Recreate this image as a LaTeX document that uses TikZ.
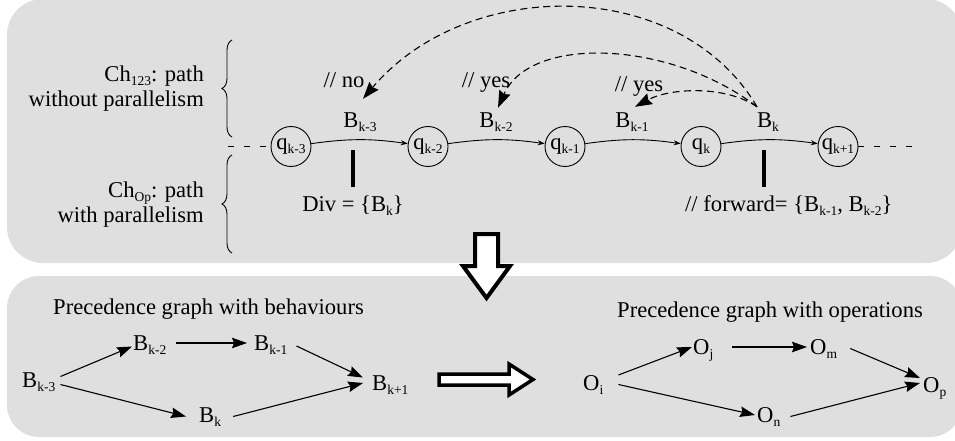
\documentclass[tikz,border=0pt]{standalone}
\usepackage{fontspec}
\setmainfont{Liberation Serif}
\usetikzlibrary{arrows.meta,decorations.pathreplacing}
\definecolor{panelgray}{RGB}{223,223,223}
\newcommand{\mysub}[1]{\raisebox{-4pt}{\fontsize{13.5pt}{14pt}\selectfont #1}}
\begin{document}
\begin{tikzpicture}[x=1pt,y=-1pt,
  font=\fontsize{22.6pt}{25pt}\selectfont,
  every node/.style={inner sep=0pt},
  txt/.style={inner sep=0pt, text height=15pt, text depth=4pt},
  st/.style={circle, draw, line width=0.9pt, minimum size=40pt, inner sep=0pt},
  chainarr/.style={line width=0.9pt, -{Stealth[length=7pt,width=5pt]}},
  dasharr/.style={line width=1.1pt, dash pattern=on 7pt off 4.5pt, -{Stealth[length=17pt,width=12pt,inset=2pt]}},
  endline/.style={line width=0.9pt, dash pattern=on 6pt off 10pt},
  barnode/.style={fill=black, minimum width=4.5pt, minimum height=37pt, inner sep=0pt},
  grarr/.style={line width=1.1pt, -{Stealth[length=15pt,width=10.5pt,inset=2pt]}},
  brc/.style={decorate, decoration={brace, amplitude=10pt}, line width=0.9pt},
  bigarr/.style={fill=white, draw=black, line width=4pt, line join=miter}]
\useasboundingbox (0,0) rectangle (955,441);
\clip (0,0) rectangle (955,441);
% panels
\fill[panelgray, rounded corners=36pt] (7,-1) rectangle (962,263);
\fill[panelgray, rounded corners=32pt] (7,276) rectangle (962,437);
% braces and labels
\draw[brc] (232,137) -- (232,40);
\draw[brc] (232,253) -- (232,155);
\node[anchor=base east] (ch1a) at (204,82) {Ch\mysub{123}: path};
\node[anchor=base east] (ch1b) at (204,107) {without parallelism};
\node[anchor=base east] (ch2a) at (204,197) {Ch\mysub{Op}: path};
\node[anchor=base east] (ch2b) at (204,222) {with parallelism};
% chain
\node[st] (q3) at (291,146.5) {q\mysub{k-3}};
\node[st] (q2) at (428,146.5) {q\mysub{k-2}};
\node[st] (q1) at (565,146.5) {q\mysub{k-1}};
\node[st] (q0) at (701,146.5) {q\mysub{k}};
\node[st] (qp) at (838,146.5) {q\mysub{k+1}};
\coordinate (dl) at (228,146.5);
\coordinate (dr) at (912,146.5);
\draw[endline] (dl) -- (q3);
\draw[endline] (qp) -- (dr);
\draw[chainarr] (q3) to[bend left=8] (q2);
\draw[chainarr] (q2) to[bend left=8] (q1);
\draw[chainarr] (q1) to[bend left=8] (q0);
\draw[chainarr] (q0) to[bend left=8] (qp);
\node[txt, anchor=base] (lk3) at (360,128) {B\mysub{k-3}};
\node[txt, anchor=base] (lk2) at (496,128) {B\mysub{k-2}};
\node[txt, anchor=base] (lk1) at (632,128) {B\mysub{k-1}};
\node[txt, anchor=base] (lk0) at (768,128) {B\mysub{k}};
\node[barnode] (bar1) at (353,168.5) {};
\node[barnode] (bar2) at (764,168.5) {};
\node[anchor=base] (div) at (353,211) {Div = \{B\mysub{k}\}};
\node[anchor=base west] (fwd) at (685,211) {// forward= \{B\mysub{k-1}, B\mysub{k-2}\}};
\node[anchor=base] (no) at (344,88) {// no};
\node[anchor=base] (yes1) at (486,88) {// yes};
\node[anchor=base] (yes2) at (639,92) {// yes};
% dashed curves
\draw[dasharr] ([shift={(-11pt,6pt)}]lk0.north) .. controls (680,-24) and (467,-24) .. ([shift={(3pt,14pt)}]lk3.north);
\draw[dasharr] ([shift={(-11pt,6pt)}]lk0.north) .. controls (670,40) and (530,35) .. ([shift={(2pt,5pt)}]lk2.north);
\draw[dasharr] ([shift={(-11pt,6pt)}]lk0.north) .. controls (725,85) and (670,88) .. ([shift={(3pt,6pt)}]lk1.north);
% big arrows
\draw[bigarr] (475,234) -- (498,234) -- (498,266) -- (510,266) -- (486.5,298) -- (463,266) -- (475,266) -- cycle;
\draw[bigarr, line width=3.5pt] (439,374) -- (509,374) -- (509,364) -- (533,379.5) -- (509,395) -- (509,385) -- (439,385) -- cycle;
% bottom titles
\node[anchor=base west] (t1) at (53,314) {Precedence graph with behaviours};
\node[anchor=base west] (t2) at (617,317) {Precedence graph with operations};
% behaviours graph
\node[txt, anchor=base west] (bk3) at (22,387) {B\mysub{k-3}};
\node[txt, anchor=base west] (bk2) at (133,350) {B\mysub{k-2}};
\node[txt, anchor=base west] (bk1) at (254,350) {B\mysub{k-1}};
\node[txt, anchor=base west] (bkp) at (372,390) {B\mysub{k+1}};
\node[txt, anchor=base west] (bk0) at (199,422) {B\mysub{k}};
\draw[grarr] ([shift={(5pt,5pt)}]bk3.east) -- ([shift={(-1pt,-2pt)}]bk2.west);
\draw[grarr] ([shift={(5pt,-3pt)}]bk3.east) -- ([xshift=-13pt]bk0.west);
\draw[grarr] ([shift={(10pt,1.5pt)}]bk2.east) -- ([shift={(-7pt,1.5pt)}]bk1.west);
\draw[grarr] ([shift={(9pt,-1.5pt)}]bk1.east) -- ([shift={(-9pt,7pt)}]bkp.west);
\draw[grarr] ([xshift=12pt]bk0.east) -- ([shift={(-9pt,1.5pt)}]bkp.west);
% operations graph
\node[txt, anchor=base west] (oi) at (583,390) {O\mysub{i}};
\node[txt, anchor=base west] (oj) at (693,354) {O\mysub{j}};
\node[txt, anchor=base west] (om) at (810,354) {O\mysub{m}};
\node[txt, anchor=base west] (op) at (923,392) {O\mysub{p}};
\node[txt, anchor=base west] (on) at (757,422) {O\mysub{n}};
\draw[grarr] ([shift={(15pt,9.5pt)}]oi.east) -- ([shift={(-1pt,1.5pt)}]oj.west);
\draw[grarr] ([xshift=15pt]oi.east) -- ([shift={(-2pt,1.5pt)}]on.west);
\draw[grarr] ([shift={(19pt,1.5pt)}]oj.east) -- ([shift={(-3pt,1.5pt)}]om.west);
\draw[grarr] ([xshift=13pt]om.east) -- ([shift={(-3pt,8.5pt)}]op.west);
\draw[grarr] ([xshift=10pt]on.east) -- ([shift={(-3pt,3.5pt)}]op.west);
\end{tikzpicture}
\end{document}
